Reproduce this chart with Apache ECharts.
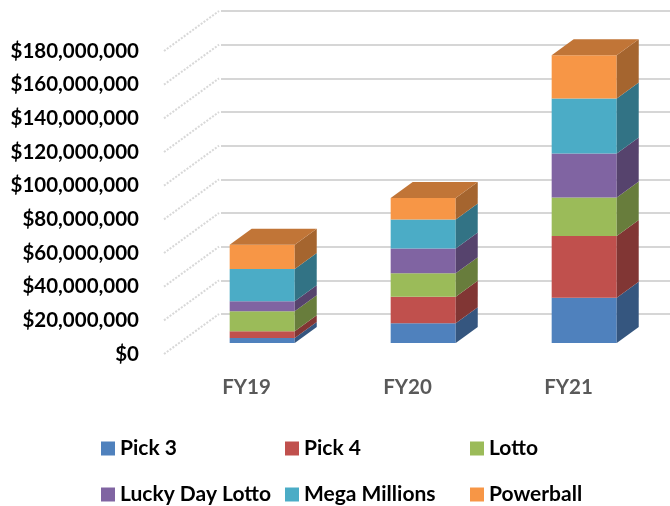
<!DOCTYPE html>
<html>
<head>
<meta charset="utf-8">
<script src="https://cdn.jsdelivr.net/npm/echarts@6/dist/echarts.min.js"></script>
<style>
  html, body { margin: 0; padding: 0; background: #fff; }
  #chart { width: 670px; height: 506px; }
</style>
</head>
<body>
<div id="chart"></div>
<script>
const categories = ['FY19', 'FY20', 'FY21']
const seriesNames = ['Pick 3', 'Pick 4', 'Lotto', 'Lucky Day Lotto', 'Mega Millions', 'Powerball']
const pick3 = [3000000, 11700000, 26900000]
const pick4 = [4000000, 15800000, 36600000]
const lotto = [11800000, 13900000, 23000000]
const luckyDay = [6000000, 14800000, 26100000]
const megaMillions = [19100000, 17200000, 32600000]
const powerball = [14400000, 12800000, 25700000]
const yTicks = [0, 20000000, 40000000, 60000000, 80000000, 100000000, 120000000, 140000000, 160000000, 180000000]

const values = [pick3, pick4, lotto, luckyDay, megaMillions, powerball]
const colors = ['#4F81BD', '#C0504D', '#9BBB59', '#8064A2', '#4BACC6', '#F79646']

// oblique 3d look: front face offset from floor edge, and depth of the box
const FRONT_X = 15.7, FRONT_Y = -11
const DEPTH_X = 22, DEPTH_Y = -16
const WALL_X = 55, WALL_Y = -40

function shade(hex, k) {
  const n = parseInt(hex.slice(1), 16)
  const r = Math.round(((n >> 16) & 255) * k)
  const g = Math.round(((n >> 8) & 255) * k)
  const b = Math.round((n & 255) * k)
  return 'rgb(' + r + ',' + g + ',' + b + ')'
}

function money(v) {
  return '$' + Number(v).toLocaleString('en-US')
}

const font = 'Lato, "Open Sans", sans-serif'

// stack the segments
let sums = categories.map(() => 0)
const barSeries = values.map((arr, s) => {
  const data = arr.map((v, i) => {
    const base = sums[i]
    sums[i] += v
    return [i, base, sums[i]]
  })
  const last = s === values.length - 1
  return {
    name: seriesNames[s],
    type: 'custom',
    xAxisIndex: 0,
    yAxisIndex: 0,
    z: 5,
    itemStyle: { color: colors[s] },
    data: data,
    renderItem: function (params, api) {
      const i = api.value(0)
      const p0 = api.coord([i, api.value(1)])
      const p1 = api.coord([i, api.value(2)])
      const w = api.size([1, 0])[0] * 0.404
      const x0 = p0[0] + FRONT_X - w / 2
      const x1 = x0 + w
      const y0 = p0[1] + FRONT_Y
      const y1 = p1[1] + FRONT_Y
      const children = [
        {
          type: 'polygon',
          shape: { points: [[x0, y1], [x1, y1], [x1, y0], [x0, y0]] },
          style: { fill: colors[s] }
        },
        {
          type: 'polygon',
          shape: { points: [[x1, y1], [x1 + DEPTH_X, y1 + DEPTH_Y], [x1 + DEPTH_X, y0 + DEPTH_Y], [x1, y0]] },
          style: { fill: shade(colors[s], 0.67) }
        }
      ]
      if (last) {
        children.push({
          type: 'polygon',
          shape: { points: [[x0, y1], [x1, y1], [x1 + DEPTH_X, y1 + DEPTH_Y], [x0 + DEPTH_X, y1 + DEPTH_Y]] },
          style: { fill: shade(colors[s], 0.78) }
        })
      }
      return { type: 'group', children: children }
    }
  }
})

// side wall diagonals
const sideWall = {
  type: 'custom',
  xAxisIndex: 0,
  yAxisIndex: 0,
  z: 1,
  silent: true,
  data: yTicks.map(v => [0, v]),
  renderItem: function (params, api) {
    const p = api.coord([0, api.value(1)])
    const x = params.coordSys.x - 2
    return {
      type: 'line',
      shape: { x1: x, y1: p[1], x2: x + WALL_X, y2: p[1] + WALL_Y },
      style: { stroke: '#d8d8d8', lineWidth: 2, lineDash: [2, 1.5] }
    }
  }
}

const legendPos = [[96, 433], [280, 433], [465, 433], [96, 479], [280, 479], [465, 479]]
const legends = seriesNames.map((name, k) => ({
  left: legendPos[k][0],
  top: legendPos[k][1],
  data: [name],
  icon: 'rect',
  itemWidth: 14,
  itemHeight: 14,
  textStyle: { fontFamily: font, fontWeight: 'bold', fontSize: 21, color: '#000' }
}))

let option = {
  animation: false,
  backgroundColor: '#fff',
  legend: legends,
  grid: [
    { left: 166, top: 51, width: 483, height: 303 },
    { left: 166 + WALL_X, top: 51 + WALL_Y, right: 0, height: 303 }
  ],
  xAxis: [
    {
      type: 'category',
      gridIndex: 0,
      data: categories,
      axisLine: { show: false },
      axisTick: { show: false },
      axisLabel: { margin: 23, fontFamily: font, fontWeight: 'bold', fontSize: 20.5, color: '#595959' }
    },
    {
      type: 'category',
      gridIndex: 1,
      data: categories,
      show: false
    }
  ],
  yAxis: [
    {
      type: 'value',
      gridIndex: 0,
      min: 0,
      max: 180000000,
      interval: 20000000,
      splitLine: { show: false },
      axisLine: { show: false },
      axisTick: { show: false },
      axisLabel: { margin: 27, formatter: money, fontFamily: font, fontWeight: 'bold', fontSize: 20.5, color: '#000' }
    },
    {
      type: 'value',
      gridIndex: 1,
      min: 0,
      max: 180000000,
      interval: 20000000,
      axisLine: { show: false },
      axisTick: { show: false },
      axisLabel: { show: false },
      splitLine: { lineStyle: { color: '#d6d6d6', width: 2 } }
    }
  ],
  series: [sideWall].concat(barSeries)
}

let myChart = echarts.init(document.getElementById('chart'))
myChart.setOption(option)
</script>
</body>
</html>
